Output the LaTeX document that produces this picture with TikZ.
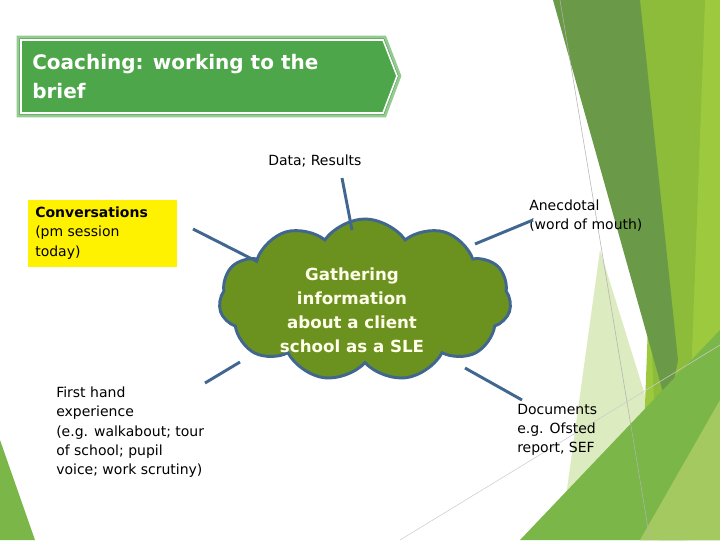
\documentclass[tikz,border=0pt]{standalone}
\usepackage{fontspec}
\setmainfont{DejaVu Sans}
\usetikzlibrary{shapes.symbols}
\definecolor{bandA}{HTML}{6A9A48}
\definecolor{bandB}{HTML}{8DBB3A}
\definecolor{bandC}{HTML}{9CC93E}
\definecolor{bandD}{HTML}{DDEBC0}
\definecolor{bandE}{HTML}{7AB648}
\definecolor{ttl}{HTML}{4EA64A}
\definecolor{cloudf}{HTML}{6B921E}
\definecolor{edge}{HTML}{41668F}
\tikzset{
 conn/.style={draw=edge,line width=2.2pt},
 lbl/.style={anchor=north west,align=left,inner sep=0pt,font=\fontsize{10.5}{14.3}\selectfont},
}
\begin{document}
\begin{tikzpicture}[x=0.75pt,y=-0.75pt]
\useasboundingbox (0,0) rectangle (720,540);
\fill[white] (0,0) rectangle (720,540);
% background decoration
\fill[bandD] (600,250) -- (690,540) -- (560,540) -- cycle;
\fill[bandC] (660,0) -- (720,0) -- (720,540) -- (640,540) -- cycle;
\fill[bandB] (637,0) -- (705,0) -- (685,540) -- (660,540) -- cycle;
\fill[bandA] (553,0) -- (640,0) -- (678,360) -- (668,410) -- cycle;
\fill[bandE] (520,540) -- (720,330) -- (720,540) -- cycle;
\fill[bandB!80] (640,540) -- (720,400) -- (720,540) -- cycle;
\fill[bandE] (0,440) -- (35,540) -- (0,540) -- cycle;
\draw[gray!60,line width=0.4pt] (560,0) -- (650,540);
\draw[gray!40,line width=0.4pt] (400,540) -- (720,345);
% title
\draw[ttl!60,line width=2pt,fill=ttl] (18,37) -- (385,37) -- (400,76) -- (385,116) -- (18,116) -- cycle;
\draw[white,line width=1.2pt] (21,40) -- (383,40) -- (397,76) -- (383,113) -- (21,113) -- cycle;
\node (title) [lbl,text=white,font=\bfseries\fontsize{15}{22}\selectfont] at (32,54) {Coaching: working to the\\brief};
% cloud
\node (cloud) [cloud,cloud puffs=11,cloud puff arc=110,aspect=1.9,draw=edge,line width=2.2pt,fill=cloudf,minimum width=292*0.75pt,minimum height=162*0.75pt,inner sep=0pt] at (365,300) {};
\node (ctext) [text=white!92!yellow,font=\bfseries\fontsize{12.5}{18}\selectfont,align=center] at (352,310) {Gathering\\information\\about a client\\school as a SLE};
% labels
\fill[yellow] (28,200) rectangle (177,267);
\node (conv) [lbl] at (35,207) {\textbf{Conversations}\\(pm session\\today)};
\node (data) [lbl] at (268,155) {Data; Results};
\node (anec) [lbl] at (529,200) {Anecdotal\\(word of mouth)};
\node (first) [lbl] at (56,387) {First hand\\experience\\(e.g. walkabout; tour\\of school; pupil\\voice; work scrutiny)};
\node (docs) [lbl] at (517,404) {Documents\\e.g. Ofsted\\report, SEF};
% connectors
\coordinate (d1) at (342,178); \coordinate (d2) at (352,230);
\coordinate (c1) at (193,229); \coordinate (c2) at (258,262);
\coordinate (a1) at (533,220); \coordinate (a2) at (475,244);
\coordinate (f1) at (205,383); \coordinate (f2) at (240,362);
\coordinate (o1) at (465,368); \coordinate (o2) at (522,400);
\draw[conn] (d1) -- (d2);
\draw[conn] (c1) -- (c2);
\draw[conn] (a1) -- (a2);
\draw[conn] (f1) -- (f2);
\draw[conn] (o1) -- (o2);
\end{tikzpicture}
\end{document}
